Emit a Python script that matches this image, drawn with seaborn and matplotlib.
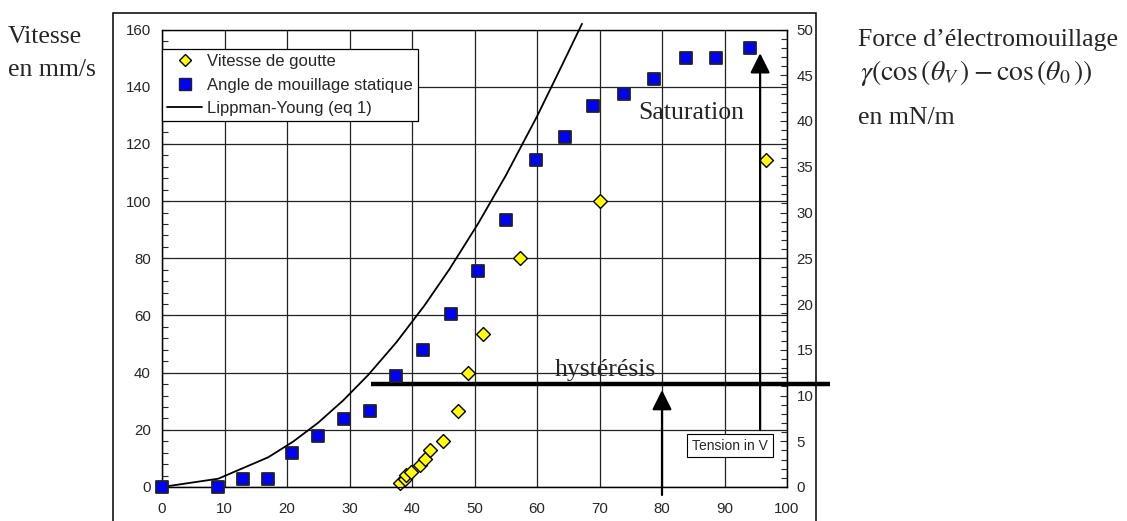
import matplotlib
matplotlib.use("Agg")
import matplotlib.pyplot as plt
import seaborn as sns
import pandas as pd
from matplotlib.patches import Rectangle
from matplotlib.lines import Line2D
from matplotlib.ticker import MultipleLocator

# ---------------- data ----------------
tension_goutte = [38.1, 38.9, 39.1, 39.9, 41.3, 42.0, 42.9, 44.9, 47.4, 48.9, 51.3, 57.3, 70.0, 96.6]
vitesse_goutte = [1.4, 2.8, 4.1, 5.3, 7.7, 9.8, 12.8, 16.0, 26.6, 40.0, 53.4, 80.0, 100.0, 114.2]

tension_angle = [0, 8.9, 12.9, 16.9, 20.8, 24.9, 29.1, 33.2, 37.4, 41.8, 46.2, 50.6, 55.1,
                 59.8, 64.4, 69.0, 73.9, 78.7, 83.8, 88.7, 94.0]
force_angle = [0, 0, 0.85, 0.85, 3.7, 5.6, 7.4, 8.3, 12.1, 15.0, 18.9, 23.6, 29.2,
               35.7, 38.2, 41.6, 43.0, 44.6, 46.9, 46.9, 48.0]

tension_lippman = [0, 9, 17, 21, 25, 29, 33, 37.5, 42, 46, 50.6, 55, 60, 64, 67.2]
vitesse_lippman = [0, 2.9, 10.4, 15.9, 22.5, 30.3, 39.2, 50.6, 63.5, 76.2, 92.2, 108.9, 129.6, 147.5, 162.0]

x_ticks = [0, 10, 20, 30, 40, 50, 60, 70, 80, 90, 100]
y_left_ticks = [0, 20, 40, 60, 80, 100, 120, 140, 160]
y_right_ticks = [0, 5, 10, 15, 20, 25, 30, 35, 40, 45, 50]

hysteresis_level = 35.9
hysteresis_span = [33.4, 106.9]

df_goutte = pd.DataFrame({"tension": tension_goutte, "vitesse": vitesse_goutte})
df_angle = pd.DataFrame({"tension": tension_angle, "force": force_angle})
df_lipp = pd.DataFrame({"tension": tension_lippman, "vitesse": vitesse_lippman})

# ---------------- style ----------------
sns.set_style("white")
plt.rcParams["font.family"] = ["Liberation Sans", "DejaVu Sans"]
plt.rcParams["mathtext.fontset"] = "stix"

W, H = 1127, 521
fig = plt.figure(figsize=(W / 100, H / 100), dpi=100)
ax = fig.add_axes([162 / W, 34 / H, 625 / W, 457.5 / H])
ax2 = ax.twinx()
ax.set_zorder(1)
ax2.set_zorder(2)
ax.patch.set_visible(True)
ax2.patch.set_visible(False)

# grid
ax.set_xlim(0, 100)
ax.set_ylim(0, 160)
ax2.set_ylim(0, 50)
ax.set_xticks(x_ticks)
ax.set_yticks(y_left_ticks)
ax2.set_yticks(y_right_ticks)
ax.xaxis.set_minor_locator(MultipleLocator(2))
ax.yaxis.set_minor_locator(MultipleLocator(4))
ax2.yaxis.set_minor_locator(MultipleLocator(1))
ax.grid(True, which="major", color="#222222", linewidth=0.9)

for a in (ax, ax2):
    for s in a.spines.values():
        s.set_color("black")
        s.set_linewidth(0.9)
ax.spines["top"].set_color("#888888")

ax.tick_params(axis="x", which="both", direction="in", top=False, labelsize=10.8, pad=11, length=5, width=0.8)
ax.tick_params(axis="x", which="minor", length=4)
ax.tick_params(axis="y", which="both", direction="in", right=False, labelsize=10.8, pad=8, length=5, width=0.8)
ax.tick_params(axis="y", which="minor", length=4)
ax2.tick_params(axis="y", which="both", direction="in", labelsize=10.8, pad=7, length=5, width=0.8)
ax2.tick_params(axis="y", which="minor", length=4)

# series
sns.lineplot(data=df_lipp, x="tension", y="vitesse", ax=ax, color="black", linewidth=1.3,
             sort=False, estimator=None, clip_on=False, zorder=3)
sns.scatterplot(data=df_goutte, x="tension", y="vitesse", ax=ax, marker="D", s=50,
                color="#FFFF00", edgecolor="black", linewidth=1.0, clip_on=False, zorder=4)
sns.scatterplot(data=df_angle, x="tension", y="force", ax=ax2, marker="s", s=75,
                color="#0000FF", edgecolor="#222222", linewidth=1.3, clip_on=False, zorder=4)
ax.set_xlabel("")
ax.set_ylabel("")
ax2.set_ylabel("")

# hysteresis line
ax.plot(hysteresis_span, [hysteresis_level, hysteresis_level], color="black", linewidth=3.2,
        clip_on=False, zorder=5, solid_capstyle="butt")
ax.text(70.9, hysteresis_level + 1.2, "hystérésis", ha="center", va="bottom",
        family=["Liberation Serif", "DejaVu Serif"], fontsize=18.5, zorder=6)
ax.text(84.6, 130.8, "Saturation", ha="center", va="center",
        family=["Liberation Serif", "DejaVu Serif"], fontsize=18.5, zorder=6)

# arrows
arrow_style = "-|>,head_length=0.6,head_width=0.3"
ax.annotate("", xy=(80, 33.9), xytext=(80, -2.8), annotation_clip=False,
            arrowprops=dict(arrowstyle=arrow_style, mutation_scale=20, lw=1.6, color="black",
                            shrinkA=0, shrinkB=0), zorder=6)
ax.annotate("", xy=(95.7, 151.7), xytext=(95.7, 19.9), annotation_clip=False,
            arrowprops=dict(arrowstyle=arrow_style, mutation_scale=20, lw=1.6, color="black",
                            shrinkA=0, shrinkB=0), zorder=6)

ax.text(90.9, 14.5, "Tension in V", ha="center", va="center", fontsize=10, zorder=7,
        bbox=dict(boxstyle="square,pad=0.35", fc="white", ec="black", lw=0.8))

# legend
handles = [
    Line2D([], [], marker="D", linestyle="none", markersize=6.5, markerfacecolor="#FFFF00",
           markeredgecolor="black", markeredgewidth=1.0),
    Line2D([], [], marker="s", linestyle="none", markersize=8.5, markerfacecolor="#0000FF",
           markeredgecolor="#222222", markeredgewidth=1.0),
    Line2D([], [], color="black", linewidth=1.3),
]
labels = ["Vitesse de goutte", "Angle de mouillage statique", "Lippman-Young (eq 1)"]
leg = ax2.legend(handles, labels, loc="upper left", bbox_to_anchor=(0.0, 0.957),
                 borderaxespad=0, fancybox=False, framealpha=1, edgecolor="black",
                 fontsize=12, handlelength=2.1, handletextpad=0.3, labelspacing=0.5,
                 borderpad=0.3)
leg.get_frame().set_linewidth(0.9)

# outer frame
fig.add_artist(Rectangle((113 / W, -0.2), (816 - 113) / W, 0.2 + (H - 13) / H,
                         transform=fig.transFigure, fill=False, ec="black", lw=1.1,
                         clip_on=False))

# side texts
serif = ["Liberation Serif", "DejaVu Serif"]
fig.text(8 / W, 1 - 37 / H, "Vitesse", ha="left", va="center", family=serif, fontsize=18.5)
fig.text(8 / W, 1 - 70 / H, "en mm/s", ha="left", va="center", family=serif, fontsize=18.5)
fig.text(858 / W, 1 - 40 / H, "Force d\u2019électromouillage", ha="left", va="center",
         family=serif, fontsize=18.5)
fig.text(860 / W, 1 - 73 / H,
         r"$\gamma\left(\cos\left(\theta_V\,\right)-\cos\left(\theta_0\,\right)\right)$",
         ha="left", va="center", fontsize=20)
fig.text(858 / W, 1 - 118 / H, "en mN/m", ha="left", va="center", family=serif, fontsize=18.5)

fig.savefig("out.png", dpi=100)
